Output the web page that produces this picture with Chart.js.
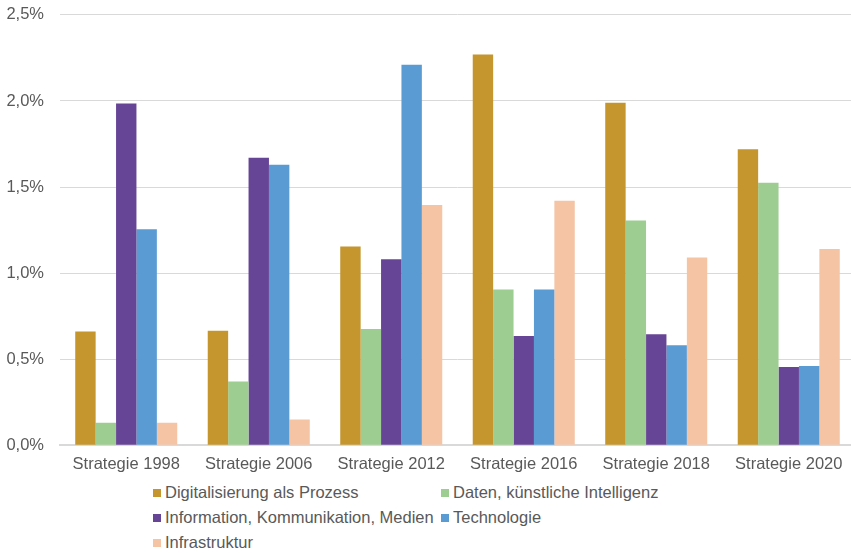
<!DOCTYPE html>
<html lang="de">
<head>
    <meta charset="UTF-8">
    <title>Strategien Digitalisierung</title>
    <script src="https://cdn.jsdelivr.net/npm/chart.js"></script>
    <style>
        body { margin: 0; background: #fff; font-family: "Liberation Sans", Arial, sans-serif; overflow: hidden; }
        #wrap { position: relative; width: 856px; height: 494px; margin-top: -11px; }
        #legende { display: grid; grid-template-columns: 288px 300px; margin-left: 153px; margin-top: -3px; color: #595959; font-size: 16.5px; }
        #legende div { height: 25px; line-height: 25px; display: flex; align-items: center; white-space: nowrap; }
        #legende span.box { display: inline-block; width: 8px; height: 8px; margin-right: 4px; }
    </style>
</head>
<body>
    <div id="wrap"><canvas id="strategieChart"></canvas></div>
    <div id="legende"></div>
    <script>
        const kategorien = ['Strategie 1998', 'Strategie 2006', 'Strategie 2012', 'Strategie 2016', 'Strategie 2018', 'Strategie 2020'];
        const digitalisierung = [0.66, 0.665, 1.155, 2.27, 1.99, 1.72];
        const daten = [0.13, 0.37, 0.675, 0.905, 1.305, 1.525];
        const information = [1.985, 1.67, 1.08, 0.635, 0.645, 0.455];
        const technologie = [1.255, 1.63, 2.21, 0.905, 0.58, 0.46];
        const infrastruktur = [0.13, 0.15, 1.395, 1.42, 1.09, 1.14];

        const serien = [
            { label: 'Digitalisierung als Prozess', data: digitalisierung, backgroundColor: '#C5962E' },
            { label: 'Daten, künstliche Intelligenz', data: daten, backgroundColor: '#9ECD91' },
            { label: 'Information, Kommunikation, Medien', data: information, backgroundColor: '#674596' },
            { label: 'Technologie', data: technologie, backgroundColor: '#5A9BD4' },
            { label: 'Infrastruktur', data: infrastruktur, backgroundColor: '#F5C4A5' }
        ];

        const schrift = { family: '"Liberation Sans", Arial, sans-serif', size: 16.5 };

        new Chart(document.getElementById('strategieChart'), {
            type: 'bar',
            data: { labels: kategorien, datasets: serien },
            options: {
                responsive: true,
                maintainAspectRatio: false,
                animation: false,
                layout: { padding: { top: 0, left: 7, right: 1, bottom: 0 } },
                datasets: { bar: { categoryPercentage: 0.77, barPercentage: 1 } },
                plugins: { legend: { display: false }, tooltip: { enabled: false } },
                scales: {
                    x: {
                        grid: { display: false, drawTicks: false },
                        border: { color: '#D9D9D9', width: 2 },
                        ticks: { color: '#595959', font: schrift, padding: 9 }
                    },
                    y: {
                        min: 0, max: 2.5,
                        afterFit: scale => { scale.width = 53; },
                        grid: { color: '#D9D9D9', drawTicks: false },
                        border: { display: false },
                        ticks: {
                            stepSize: 0.5, color: '#595959', font: schrift, padding: 16,
                            callback: v => v.toFixed(1).replace('.', ',') + '%'
                        }
                    }
                }
            }
        });

        const legende = document.getElementById('legende');
        serien.forEach(s => {
            const d = document.createElement('div');
            d.innerHTML = '<span class="box" style="background:' + s.backgroundColor + '"></span>' + s.label;
            legende.appendChild(d);
        });
    </script>
</body>
</html>
